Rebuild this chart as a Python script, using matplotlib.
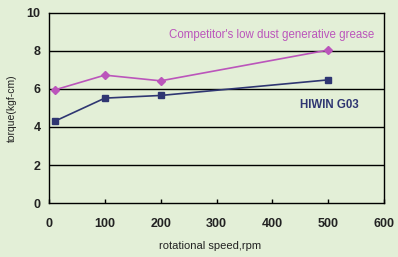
import matplotlib
matplotlib.use("Agg")
import matplotlib.pyplot as plt

speed = [10, 100, 200, 500]
hiwin = [4.3, 5.52, 5.66, 6.48]
competitor = [5.95, 6.73, 6.43, 8.05]
xticks = [0, 100, 200, 300, 400, 500, 600]
yticks = [0, 2, 4, 6, 8, 10]

bg = '#e3efd7'
pink = '#bb55bb'
navy = '#2f3672'

plt.rcParams['font.family'] = ['Liberation Sans', 'DejaVu Sans']

fig = plt.figure(figsize=(3.98, 2.57), dpi=100, facecolor=bg)
ax = fig.add_axes([49/398, 1 - 203/257, (384-49)/398, (203-13)/257])
ax.set_facecolor(bg)

for y in yticks[1:-1]:
    ax.axhline(y, color='black', lw=1.0, zorder=1)

ax.plot(speed, competitor, color=pink, lw=1.2, marker='D', ms=4, zorder=3)
ax.plot(speed, hiwin, color=navy, lw=1.2, marker='s', ms=5, zorder=3)

ax.set_xlim(0, 600)
ax.set_ylim(0, 10)
ax.set_xticks(xticks)
ax.set_yticks(yticks)
ax.tick_params(axis='x', direction='in', length=3, width=1, pad=11, labelsize=9)
ax.tick_params(axis='y', length=0, pad=6, labelsize=9)
for lab in ax.get_xticklabels() + ax.get_yticklabels():
    lab.set_fontweight('bold')
    lab.set_color('#222222')
for s in ax.spines.values():
    s.set_linewidth(1.0)
    s.set_color('black')

ax.text(398, 8.84, "Competitor's low dust generative grease", color=pink,
        fontsize=8.3, ha='center', va='center')
ax.text(503, 5.16, "HIWIN G03", color=navy, fontsize=8.3, fontweight='bold',
        ha='center', va='center')

fig.text(210/398, 1 - 246/257, "rotational speed,rpm", fontsize=8,
         ha='center', va='center', color='#222222')
fig.text(12/398, 1 - 108/257, "torque(kgf-cm)", fontsize=7.5, rotation=90,
         ha='center', va='center', color='#222222')

fig.savefig('out.png', dpi=100, facecolor=bg)
